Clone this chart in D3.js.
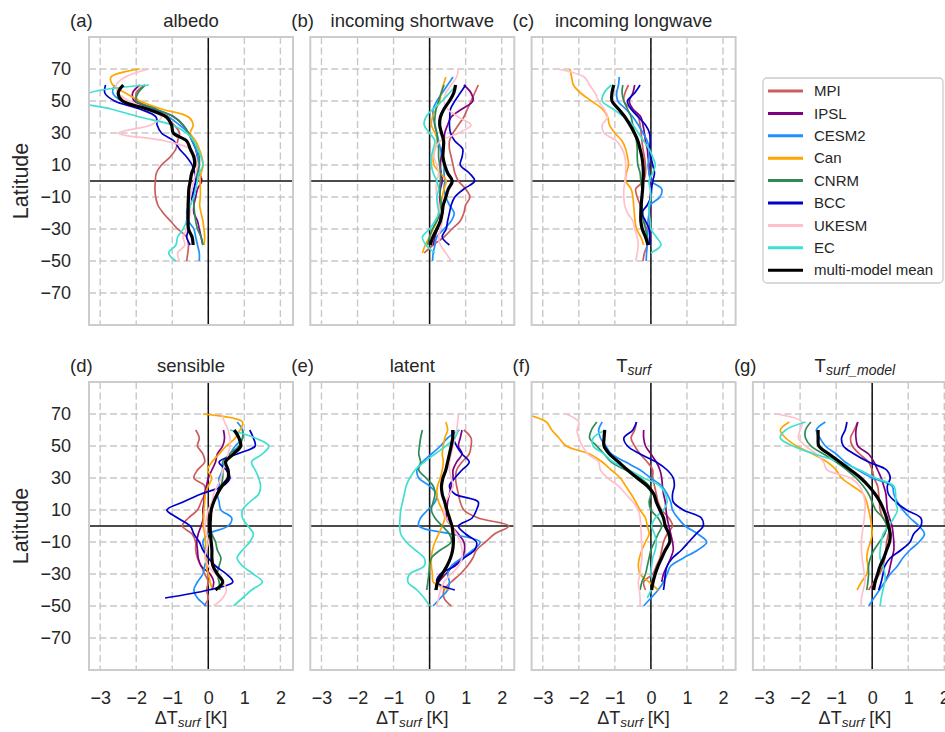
<!DOCTYPE html>
<html>
<head>
<meta charset="utf-8">
<script src="https://cdn.jsdelivr.net/npm/d3@7"></script>
<style>
  body { margin: 0; background: #fff; }
  svg { font-family: "Liberation Sans", Arial, sans-serif; }
</style>
</head>
<body>
<svg id="chart" width="945" height="732"></svg>
<script>
// latitude of every sample, south to north
const lats = [-50, -45, -40, -35, -30, -25, -20, -15, -10, -5, 0, 5, 10, 15, 20, 25, 30, 35, 40, 45, 50, 55, 60, 65, 70];

const models = ["MPI", "IPSL", "CESM2", "Can", "CNRM", "BCC", "UKESM", "EC", "multi-model mean"];
const modelColors = ["#cd5c5c", "#800080", "#1e90ff", "#ffa500", "#2e8b57", "#0000cd", "#ffc0cb", "#40e0d0", "#000000"];

const xTicks = [-3, -2, -1, 0, 1, 2];
const yTicks = [-70, -50, -30, -10, 10, 30, 50, 70];

// one row per model, same order as `models`, last row = multi-model mean
const albedo = [
  [-0.6, -0.57, -0.55, -0.6, -0.85, -1.05, -1.25, -1.4, -1.46, -1.48, -1.47, -1.44, -1.3, -1.06, -0.9, -0.85, -0.8, -0.95, -1.2, -1.5, -1.95, -2.0, -1.76, null, null],
  [null, null, -0.15, -0.2, -0.25, -0.3, -0.4, -0.4, -0.35, -0.3, -0.18, -0.25, -0.3, -0.3, -0.35, -0.45, -0.55, -0.7, -0.95, -1.5, -2.05, -2.1, -1.9, null, null],
  [-0.25, -0.25, -0.3, -0.35, -0.4, -0.55, -0.6, -0.55, -0.45, -0.4, -0.35, -0.3, -0.25, -0.3, -0.35, -0.45, -0.55, -0.8, -1.1, -1.6, -2.4, -2.65, -2.6, null, null],
  [null, null, -0.12, -0.1, -0.12, -0.15, -0.2, -0.24, -0.22, -0.22, -0.23, -0.2, -0.14, -0.18, -0.25, -0.35, -0.5, -0.42, -0.55, -1.3, -1.9, -2.3, -2.65, -2.7, -1.9],
  [null, null, -0.15, -0.2, -0.3, -0.35, -0.38, -0.4, -0.4, -0.38, -0.35, -0.3, -0.25, -0.25, -0.3, -0.42, -0.55, -0.7, -0.95, -1.45, -2.0, -1.95, -1.75, null, null],
  [null, null, -0.5, -0.6, -0.55, -0.6, -0.55, -0.5, -0.45, -0.4, -0.35, -0.38, -0.45, -0.6, -0.8, -0.95, -1.3, -1.42, -1.45, -1.9, -2.6, -2.87, -2.85, null, null],
  [-0.8, -0.85, -0.65, -0.7, -0.6, -0.55, -0.5, -0.5, -0.5, -0.45, -0.4, -0.35, -0.3, -0.35, -0.5, -1.2, -2.5, -1.6, -1.3, -1.7, -2.2, -2.5, -2.55, -2.3, -1.65],
  [-0.9, -1.1, -0.9, -0.85, -0.7, -0.6, -0.55, -0.5, -0.4, -0.35, -0.3, -0.25, -0.15, -0.2, -0.3, -0.4, -0.6, -1.0, -1.9, -2.7, -3.6, -3.3, -1.65, null, null],
  [null, null, -0.42, -0.45, -0.55, -0.56, -0.56, -0.56, -0.55, -0.54, -0.5, -0.46, -0.38, -0.4, -0.5, -0.6, -0.97, -1.02, -1.16, -1.7, -2.38, -2.5, -2.36, null, null]
];

const shortwave = [
  [null, -0.15, 0.1, 0.4, 0.62, 0.85, 0.95, 1.0, 1.12, 1.0, 0.8, 0.7, 0.65, 0.6, 0.55, 0.55, 0.65, 0.8, 0.95, 1.05, 1.15, 1.25, 1.35, null, null],
  [null, null, 0.1, 0.15, 0.22, 0.28, 0.3, 0.3, 0.28, 0.3, 0.35, 0.32, 0.3, 0.32, 0.35, 0.4, 0.42, 0.5, 0.6, 0.9, 1.2, 1.15, 0.95, null, null],
  [0.08, 0.1, 0.15, 0.2, 0.4, 0.6, 0.68, 0.55, 0.45, 0.4, 0.42, 0.4, 0.4, 0.35, 0.3, 0.25, 0.2, 0.15, 0.1, 0.1, 0.2, 0.35, 0.5, 0.65, null],
  [null, -0.2, -0.12, 0.0, 0.1, 0.2, 0.25, 0.3, 0.35, 0.4, 0.46, 0.3, 0.12, 0.1, 0.15, 0.22, 0.15, 0.05, 0.08, 0.18, 0.28, 0.32, 0.38, 0.45, null],
  [null, null, -0.05, 0.0, 0.08, 0.2, 0.3, 0.32, 0.3, 0.28, 0.3, 0.3, 0.28, 0.25, 0.25, 0.22, 0.2, 0.14, 0.15, 0.18, 0.25, 0.32, 0.4, null, null],
  [null, null, 0.55, 0.35, 0.46, 0.5, 0.55, 0.6, 0.7, 0.95, 1.25, 1.1, 0.85, 0.9, 0.92, 0.7, 0.58, 0.55, 0.56, 0.58, 0.7, 0.85, 1.0, null, null],
  [0.6, 0.45, 0.3, 0.25, 0.3, 0.35, 0.3, 0.25, 0.2, 0.18, 0.2, 0.25, 0.2, 0.12, 0.15, 0.3, 0.8, 1.15, 0.8, 0.5, 0.4, 0.45, 0.6, 0.75, 0.8],
  [null, 0.15, -0.1, -0.2, 0.0, 0.15, 0.25, 0.22, 0.2, 0.25, 0.2, 0.1, 0.05, 0.05, 0.1, 0.15, 0.0, -0.15, -0.1, 0.1, 0.35, 0.55, 0.75, null, null],
  [null, null, 0.02, 0.09, 0.2, 0.3, 0.35, 0.38, 0.45, 0.52, 0.63, 0.5, 0.42, 0.37, 0.38, 0.39, 0.33, 0.28, 0.3, 0.4, 0.55, 0.67, 0.72, null, null]
];

const longwave = [
  [-0.22, -0.18, -0.1, -0.1, -0.12, -0.2, -0.25, -0.3, -0.38, -0.42, -0.2, -0.15, -0.15, -0.18, -0.22, -0.25, -0.27, -0.3, -0.35, -0.55, -0.75, -0.72, -0.62, null, null],
  [null, null, -0.05, -0.03, -0.03, -0.03, -0.02, -0.02, -0.02, 0.0, 0.0, -0.05, -0.05, -0.08, -0.1, -0.15, -0.18, -0.22, -0.28, -0.5, -0.6, -0.5, -0.45, null, null],
  [-0.13, -0.12, -0.1, -0.1, -0.08, -0.08, -0.05, -0.02, 0.25, 0.3, 0.0, -0.05, -0.08, -0.05, -0.05, -0.1, -0.22, -0.35, -0.5, -0.7, -0.92, -0.95, -0.9, -0.88, null],
  [null, null, -0.2, -0.28, -0.4, -0.44, -0.46, -0.48, -0.5, -0.55, -0.7, -0.68, -0.62, -0.65, -0.7, -0.8, -1.0, -1.15, -1.2, -1.35, -1.65, -1.95, -2.15, -2.2, -2.25],
  [null, null, -0.05, -0.1, -0.15, -0.2, -0.22, -0.25, -0.25, -0.25, -0.28, -0.3, -0.36, -0.38, -0.38, -0.4, -0.45, -0.5, -0.55, -0.65, -0.75, -0.8, -0.78, null, null],
  [null, null, -0.03, -0.03, -0.05, -0.15, -0.25, -0.1, 0.0, 0.02, 0.05, 0.1, 0.05, 0.0, -0.03, -0.02, -0.04, -0.15, -0.35, -0.55, -0.65, -0.45, -0.3, null, null],
  [-0.42, -0.38, -0.35, -0.38, -0.45, -0.5, -0.65, -0.73, -0.75, -0.75, -0.72, -0.7, -0.7, -0.72, -0.8, -0.95, -1.3, -1.35, -1.2, -1.3, -1.45, -1.55, -1.7, -1.85, -2.6],
  [null, 0.0, 0.28, 0.15, 0.0, -0.02, -0.05, -0.05, 0.0, -0.02, -0.05, 0.05, 0.12, 0.05, -0.05, -0.2, -0.35, -0.5, -0.75, -1.05, -1.35, -1.3, -1.1, null, null],
  [null, null, -0.08, -0.15, -0.24, -0.28, -0.28, -0.27, -0.25, -0.23, -0.22, -0.21, -0.22, -0.25, -0.3, -0.36, -0.46, -0.58, -0.72, -0.9, -1.08, -1.08, -1.03, null, null]
];

const sensible = [
  [-0.12, 0.0, -0.05, 0.0, -0.1, -0.2, -0.3, -0.35, -0.35, -0.45, -0.72, -0.55, -0.3, -0.2, -0.1, -0.1, -0.4, -0.3, -0.1, -0.15, -0.3, -0.25, -0.35, null, null],
  [null, null, 0.1, 0.15, 0.05, -0.2, -0.28, -0.3, -0.32, -0.28, -0.2, -0.14, -0.15, -0.12, -0.1, -0.05, 0.0, 0.1, 0.2, 0.25, 0.4, 0.45, 0.42, null, null],
  [-0.05, -0.3, -0.4, -0.3, -0.15, -0.1, -0.05, -0.1, -0.15, 0.0, 0.55, 0.65, 0.35, 0.3, 0.25, 0.3, 0.3, 0.4, 0.45, 0.6, 0.75, 0.95, 0.95, 0.8, null],
  [null, null, 0.12, 0.05, 0.0, -0.05, -0.05, -0.07, -0.08, -0.1, -0.14, -0.13, -0.12, -0.1, -0.08, 0.0, 0.1, -0.02, 0.1, 0.3, 0.5, 0.75, 0.88, 0.95, -0.15],
  [null, null, 0.32, 0.3, 0.25, 0.3, 0.35, 0.25, 0.2, 0.1, 0.05, 0.05, 0.1, 0.15, 0.25, 0.35, 0.4, 0.4, 0.4, 0.6, 0.85, 0.95, 0.95, null, null],
  [null, -1.2, 0.0, 0.68, 0.5, 0.2, 0.0, -0.15, -0.25, -0.4, -0.5, -0.85, -1.15, -0.7, -0.2, 0.4, 0.6, 0.5, 0.3, 0.8, 1.3, 1.25, 1.15, null, null],
  [0.15, 0.4, 0.5, 0.4, 0.2, 0.0, -0.1, -0.05, 0.0, -0.05, -0.1, -0.05, 0.0, 0.1, 0.15, 0.25, 0.35, 0.4, 0.5, 0.55, 0.6, 0.6, 0.55, 0.45, 0.37],
  [0.7, 0.95, 1.2, 1.5, 1.25, 0.95, 0.8, 0.95, 1.15, 1.25, 1.1, 0.95, 0.95, 1.15, 1.4, 1.45, 1.4, 1.3, 1.2, 1.5, 1.68, 1.3, 0.6, null, null],
  [null, null, 0.2, 0.4, 0.25, 0.13, 0.1, 0.1, 0.08, 0.06, 0.05, 0.06, 0.08, 0.15, 0.25, 0.38, 0.55, 0.55, 0.48, 0.7, 0.9, 0.85, 0.72, null, null]
];

const latent = [
  [0.6, 0.4, 0.4, 0.6, 0.85, 1.05, 1.2, 1.3, 1.55, 1.8, 2.2, 1.35, 0.95, 0.85, 0.8, 0.75, 0.72, 0.75, 0.9, 1.1, 1.15, 1.15, 0.95, null, null],
  [null, null, 0.15, 0.25, 0.45, 0.65, 0.9, 0.97, 0.95, 0.8, 0.6, 0.46, 0.48, 0.5, 0.55, 0.6, 0.65, 0.65, 0.75, 0.9, 0.8, 0.85, 0.9, null, null],
  [0.1, 0.3, 0.5, 0.55, 0.5, 0.6, 0.9, 1.2, 1.4, 0.6, -0.3, -0.25, -0.05, 0.15, 0.2, 0.0, -0.3, -0.35, -0.2, 0.05, 0.3, 0.5, 0.83, null, null],
  [null, null, 0.55, 0.1, 0.08, 0.05, 0.05, 0.08, 0.15, 0.25, 0.35, 0.42, 0.35, 0.25, 0.2, 0.22, 0.3, 0.35, 0.38, 0.35, 0.38, 0.42, 0.5, 0.45, null],
  [null, null, -0.08, -0.05, -0.02, 0.0, 0.05, 0.3, 0.6, 0.55, 0.35, 0.15, 0.05, 0.1, 0.15, 0.1, -0.1, -0.3, -0.25, -0.3, -0.28, -0.25, -0.2, null, null],
  [null, null, 0.7, 0.2, 0.3, 0.7, 0.95, 1.25, 1.3, 1.0, 0.8, 1.18, 1.3, 1.35, 0.7, 0.55, 0.7, 0.9, 1.1, 0.9, 0.75, 0.65, 0.62, null, null],
  [0.2, 0.25, 0.3, 0.4, 0.6, 0.8, 0.9, 0.9, 0.85, 0.75, 0.6, 0.45, 0.4, 0.45, 0.55, 0.65, 0.6, 0.55, 0.55, 0.6, 0.65, 0.7, 0.75, 0.78, 0.8],
  [0.0, -0.15, -0.35, -0.6, -0.55, -0.15, -0.15, -0.4, -0.65, -0.8, -0.83, -0.82, -0.8, -0.75, -0.7, -0.65, -0.55, -0.4, -0.15, 0.15, 0.45, 0.7, 0.8, null, null],
  [null, null, 0.18, 0.22, 0.35, 0.48, 0.58, 0.64, 0.66, 0.65, 0.62, 0.55, 0.48, 0.42, 0.35, 0.33, 0.37, 0.45, 0.5, 0.55, 0.6, 0.64, 0.65, null, null]
];

const tsurf = [
  [null, null, -0.15, -0.2, 0.05, 0.15, 0.25, 0.3, 0.35, 0.45, 0.6, 0.5, 0.3, 0.2, 0.15, 0.1, 0.05, 0.05, -0.1, -0.3, -0.45, -0.55, -0.45, -0.4, null],
  [null, null, null, 0.3, 0.35, 0.45, 0.55, 0.62, 0.6, 0.55, 0.5, 0.45, 0.42, 0.4, 0.35, 0.32, 0.3, 0.25, 0.15, 0.0, -0.15, -0.2, -0.2, null, null],
  [-0.2, 0.0, 0.2, 0.35, 0.45, 0.55, 0.9, 1.3, 1.55, 1.3, 0.95, 0.75, 0.6, 0.55, 0.45, 0.3, 0.0, -0.3, -0.7, -1.1, -1.25, -1.4, -1.45, -1.35, null],
  [null, null, 0.2, -0.05, -0.3, -0.35, -0.32, -0.25, -0.15, -0.05, -0.1, -0.15, -0.3, -0.42, -0.55, -0.7, -0.85, -1.1, -1.35, -1.7, -2.35, -2.55, -2.75, -2.9, -3.5],
  [null, null, -0.3, -0.25, -0.15, -0.1, -0.05, 0.0, 0.1, 0.2, 0.3, 0.2, 0.0, -0.05, 0.0, -0.05, -0.3, -0.7, -1.1, -1.3, -1.5, -1.7, -1.65, -1.5, null],
  [null, null, 0.35, 0.38, 0.4, 0.45, 0.6, 0.85, 1.05, 1.25, 1.45, 1.4, 0.9, 0.62, 0.6, 0.65, 0.62, 0.45, 0.15, -0.3, -0.65, -0.75, -0.5, -0.4, null],
  [-0.3, -0.3, -0.32, -0.35, -0.3, -0.28, -0.25, -0.25, -0.26, -0.27, -0.28, -0.3, -0.35, -0.5, -0.7, -0.9, -1.2, -1.4, -1.45, -1.75, -1.9, -2.0, -2.05, -2.0, -2.35],
  [null, -0.1, 0.0, 0.05, 0.0, 0.02, 0.05, 0.12, 0.15, 0.1, 0.02, 0.12, 0.35, 0.45, 0.4, 0.25, -0.2, -0.6, -1.05, -1.3, -1.6, -1.6, -1.25, null, null],
  [null, null, 0.02, 0.06, 0.12, 0.2, 0.3, 0.4, 0.52, 0.5, 0.4, 0.35, 0.25, 0.15, 0.08, -0.1, -0.38, -0.65, -0.9, -1.15, -1.3, -1.3, -1.28, null, null]
];

const tsurfModel = [
  [null, null, -0.1, 0.05, 0.2, 0.3, 0.35, 0.38, 0.4, 0.45, 0.5, 0.3, 0.22, 0.2, 0.18, 0.15, 0.05, 0.0, -0.1, -0.35, -0.55, -0.6, -0.5, -0.4, null],
  [null, null, null, 0.35, 0.45, 0.5, 0.55, 0.6, 0.6, 0.58, 0.55, 0.48, 0.42, 0.4, 0.38, 0.32, 0.25, 0.15, 0.05, -0.1, -0.4, -0.45, -0.45, -0.4, null],
  [-0.1, 0.05, 0.2, 0.35, 0.5, 0.7, 0.85, 1.05, 1.3, 1.45, 1.3, 1.05, 0.85, 0.7, 0.6, 0.55, 0.0, -0.4, -0.75, -1.0, -1.3, -1.45, -1.55, -1.3, null],
  [null, null, -0.42, -0.3, -0.15, -0.12, -0.15, -0.12, -0.05, 0.0, -0.02, -0.05, -0.1, -0.15, -0.25, -0.55, -0.85, -1.0, -1.25, -1.65, -2.1, -2.4, -2.55, -2.3, null],
  [null, null, -0.15, -0.12, -0.1, -0.1, -0.05, 0.05, 0.2, 0.35, 0.4, 0.3, 0.1, 0.0, -0.1, -0.25, -0.45, -0.7, -1.0, -1.35, -1.7, -1.85, -1.85, -1.7, null],
  [null, null, 0.18, 0.25, 0.3, 0.35, 0.5, 0.8, 1.05, 1.15, 1.35, 1.35, 0.95, 0.65, 0.45, 0.42, 0.5, 0.4, -0.1, -0.5, -0.8, -0.85, -0.75, -0.7, null],
  [-0.3, -0.3, -0.25, -0.2, -0.22, -0.25, -0.28, -0.3, -0.3, -0.28, -0.25, -0.22, -0.2, -0.2, -0.25, -0.35, -0.6, -1.25, -1.35, -1.55, -1.85, -2.05, -2.0, -1.95, -2.65],
  [0.22, 0.25, 0.3, 0.35, 0.35, 0.3, 0.22, 0.22, 0.25, 0.3, 0.45, 0.6, 0.7, 0.65, 0.65, 0.6, 0.1, -0.35, -0.9, -1.6, -2.2, -2.55, -2.4, -1.85, null],
  [null, null, 0.04, 0.08, 0.15, 0.22, 0.32, 0.4, 0.48, 0.5, 0.45, 0.4, 0.32, 0.22, 0.08, -0.1, -0.32, -0.6, -0.9, -1.2, -1.48, -1.5, -1.5, null, null]
];

// panel layout: [label, title, subscript, data, row, col]
const panels = [
  ["(a)", "albedo", "", albedo, 0, 0],
  ["(b)", "incoming shortwave", "", shortwave, 0, 1],
  ["(c)", "incoming longwave", "", longwave, 0, 2],
  ["(d)", "sensible", "", sensible, 1, 0],
  ["(e)", "latent", "", latent, 1, 1],
  ["(f)", "T", "surf", tsurf, 1, 2],
  ["(g)", "T", "surf_model", tsurfModel, 1, 3]
];

const config = {
  left: 89,
  colStep: 221.3,
  width: 204,
  tops: [37, 382],
  height: 288,
  textColor: "#262626",
  frameColor: "#cccccc"
};

const svg = d3.select("#chart");
const defs = svg.append("defs");

panels.forEach(([label, title, sub, rows, row, col], pi) => {
  const x0 = config.left + col * config.colStep;
  const y0 = config.tops[row];
  const x = d3.scaleLinear().domain([-3.31, 2.35]).range([x0, x0 + config.width]);
  const y = d3.scaleLinear().domain([-90, 90]).range([y0 + config.height, y0]);

  const g = svg.append("g");

  //grid
  g.selectAll(".vgrid").data(xTicks).join("line")
    .attr("x1", d => x(d)).attr("x2", d => x(d))
    .attr("y1", y0).attr("y2", y0 + config.height)
    .attr("stroke", "#c8c8c8").attr("stroke-width", 1.4).attr("stroke-dasharray", "7,3.5");
  g.selectAll(".hgrid").data(yTicks).join("line")
    .attr("x1", x0).attr("x2", x0 + config.width)
    .attr("y1", d => y(d)).attr("y2", d => y(d))
    .attr("stroke", "#c8c8c8").attr("stroke-width", 1.4).attr("stroke-dasharray", "7,3.5");

  //zero lines
  g.append("line")
    .attr("x1", x(0)).attr("x2", x(0)).attr("y1", y0).attr("y2", y0 + config.height)
    .attr("stroke", "#111").attr("stroke-width", 1.5);
  g.append("line")
    .attr("x1", x0).attr("x2", x0 + config.width).attr("y1", y(0)).attr("y2", y(0))
    .attr("stroke", "#111").attr("stroke-width", 1.5);

  //profiles
  defs.append("clipPath").attr("id", "clip" + pi)
    .append("rect").attr("x", x0).attr("y", y0).attr("width", config.width).attr("height", config.height);

  const line = d3.line()
    .defined(d => d != null)
    .x(d => x(d))
    .y((d, i) => y(lats[i]))
    .curve(d3.curveCatmullRom);

  g.append("g").attr("clip-path", `url(#clip${pi})`)
    .selectAll("path").data(rows).join("path")
    .attr("d", d => line(d))
    .attr("fill", "none")
    .attr("stroke", (d, i) => modelColors[i])
    .attr("stroke-width", (d, i) => i === rows.length - 1 ? 3.2 : 1.7)
    .attr("stroke-linejoin", "round");

  //frame
  g.append("rect")
    .attr("x", x0).attr("y", y0).attr("width", config.width).attr("height", config.height)
    .attr("fill", "none").attr("stroke", config.frameColor).attr("stroke-width", 2);

  //titles
  g.append("text")
    .attr("x", x0 - 19).attr("y", y0 - 10)
    .attr("font-size", 18.5).attr("fill", config.textColor)
    .text(label);
  const t = g.append("text")
    .attr("x", x0 + config.width / 2).attr("y", y0 - 10)
    .attr("text-anchor", "middle")
    .attr("font-size", 18.5).attr("fill", config.textColor)
    .text(title);
  if (sub) {
    t.append("tspan").attr("font-style", "italic").attr("font-size", 14).attr("dy", 3).text(sub);
  }

  //axes
  if (col === 0) {
    g.append("g")
      .attr("transform", `translate(${x0},0)`)
      .call(d3.axisLeft(y).tickValues(yTicks).tickSize(0).tickPadding(18).tickFormat(d3.format("d")))
      .call(a => a.select(".domain").remove())
      .call(a => a.selectAll("text")
        .attr("font-size", 18).attr("fill", config.textColor)
        .attr("font-family", "Liberation Sans, Arial, sans-serif"));

    g.append("text")
      .attr("transform", `translate(28,${y0 + config.height / 2}) rotate(-90)`)
      .attr("text-anchor", "middle")
      .attr("font-size", 21.5).attr("fill", config.textColor)
      .text("Latitude");
  }

  if (row === 1) {
    g.append("g")
      .attr("transform", `translate(0,${y0 + config.height})`)
      .call(d3.axisBottom(x).tickValues(xTicks).tickSize(0).tickPadding(21).tickFormat(d3.format("d")))
      .call(a => a.select(".domain").remove())
      .call(a => a.selectAll("text")
        .attr("font-size", 18).attr("fill", config.textColor)
        .attr("font-family", "Liberation Sans, Arial, sans-serif"));

    const xl = g.append("text")
      .attr("x", x0 + config.width / 2).attr("y", y0 + config.height + 54)
      .attr("text-anchor", "middle")
      .attr("font-size", 18).attr("fill", config.textColor)
      .text("ΔT");
    xl.append("tspan").attr("font-style", "italic").attr("font-size", 13.5).attr("dy", 2.5).text("surf");
    xl.append("tspan").attr("dy", -2.5).text(" [K]");
  }
});

//legend
const legend = svg.append("g");
legend.append("rect")
  .attr("x", 763).attr("y", 78).attr("width", 180).attr("height", 205).attr("rx", 4)
  .attr("fill", "#fff").attr("stroke", "#cccccc").attr("stroke-width", 1.3);

const entries = legend.selectAll(".entry").data(models).join("g")
  .attr("transform", (d, i) => `translate(0,${91 + i * 22.4})`);
entries.append("line")
  .attr("x1", 768).attr("x2", 803)
  .attr("stroke", (d, i) => modelColors[i]).attr("stroke-width", 3);
entries.append("text")
  .attr("x", 814).attr("dy", "0.35em")
  .attr("font-size", 15).attr("fill", config.textColor)
  .text(d => d);
</script>
</body>
</html>
